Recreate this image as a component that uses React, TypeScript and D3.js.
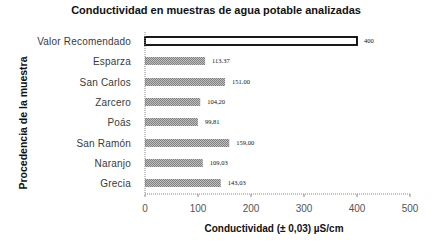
import React from "react";
import * as d3 from "d3";

const categories = ["Valor Recomendado", "Esparza", "San Carlos", "Zarcero", "Poás", "San Ramón", "Naranjo", "Grecia"];
const values = [400, 113.37, 151.0, 104.2, 99.81, 159.0, 109.03, 143.03];
const valueLabels = ["400", "113.37", "151.00", "104,20", "99,81", "159,00", "109,03", "143,03"];
const xTicks = [0, 100, 200, 300, 400, 500];

const W = 435;
const H = 242;

export default function App() {
  const x = d3.scaleLinear().domain([0, 500]).range([145, 410]);
  const y = d3.scaleBand<string>().domain(categories).range([31, 193.5]).paddingInner(0.6).paddingOuter(0.3);
  const bw = 8;
  const sans = "'Liberation Sans', Arial, sans-serif";
  return (
    <svg width={W} height={H} style={{ position: "absolute", left: 0, top: 0, background: "#fff" }}>
      <defs>
        <pattern id="hatch" width={2} height={2} patternUnits="userSpaceOnUse">
          <rect width={2} height={2} fill="#c0c0c0" />
          <rect width={1} height={1} fill="#808080" />
          <rect x={1} y={1} width={1} height={1} fill="#808080" />
        </pattern>
      </defs>
      <rect width={W} height={H} fill="#fff" />
      <text x={216} y={14} textAnchor="middle" fontFamily={sans} fontWeight="bold" fontSize={11} fill="#111">
        Conductividad en muestras de agua potable analizadas
      </text>
      {categories.map((c, i) => {
        const cy = y(c)! + y.bandwidth() / 2;
        const yy = Math.round(cy - bw / 2);
        const isRef = i === 0;
        return (
          <g key={c}>
            {isRef ? (
              <rect x={x(0)} y={yy} width={x(values[i]) - x(0)} height={bw} fill="#fff" stroke="#000" strokeWidth={1.8} />
            ) : (
              <rect x={x(0)} y={yy} width={x(values[i]) - x(0)} height={bw} fill="url(#hatch)" />
            )}
            <text x={131} y={yy + bw / 2} dy="0.35em" textAnchor="end" fontFamily={sans} fontSize={10} fill="#3a3a3a" letterSpacing={0.2}>
              {c}
            </text>
            <text x={x(values[i]) + 7} y={yy + bw / 2} dy="0.35em" fontFamily="'Liberation Serif', serif" fontSize={6.5} fill="#111">
              {valueLabels[i]}
            </text>
          </g>
        );
      })}
      <line x1={x(0)} x2={x(0)} y1={32} y2={194} stroke="#888" strokeWidth={1} strokeDasharray="1,1" />
      <line x1={x(0)} x2={x(500)} y1={194} y2={194} stroke="#888" strokeWidth={1} strokeDasharray="1,1" />
      {xTicks.map((t) => (
        <g key={t}>
          <line x1={x(t)} x2={x(t)} y1={194} y2={197} stroke="#888" strokeWidth={1} />
          <text x={x(t)} y={212} textAnchor="middle" fontFamily={sans} fontSize={10} fill="#555">
            {t}
          </text>
        </g>
      ))}
      <text x={274} y={232} textAnchor="middle" fontFamily={sans} fontWeight="bold" fontSize={10} fill="#111">
        Conductividad (± 0,03) µS/cm
      </text>
      <text transform="translate(27,123) rotate(-90)" textAnchor="middle" fontFamily={sans} fontWeight="bold" fontSize={10.5} fill="#111">
        Procedencia de la muestra
      </text>
    </svg>
  );
}
